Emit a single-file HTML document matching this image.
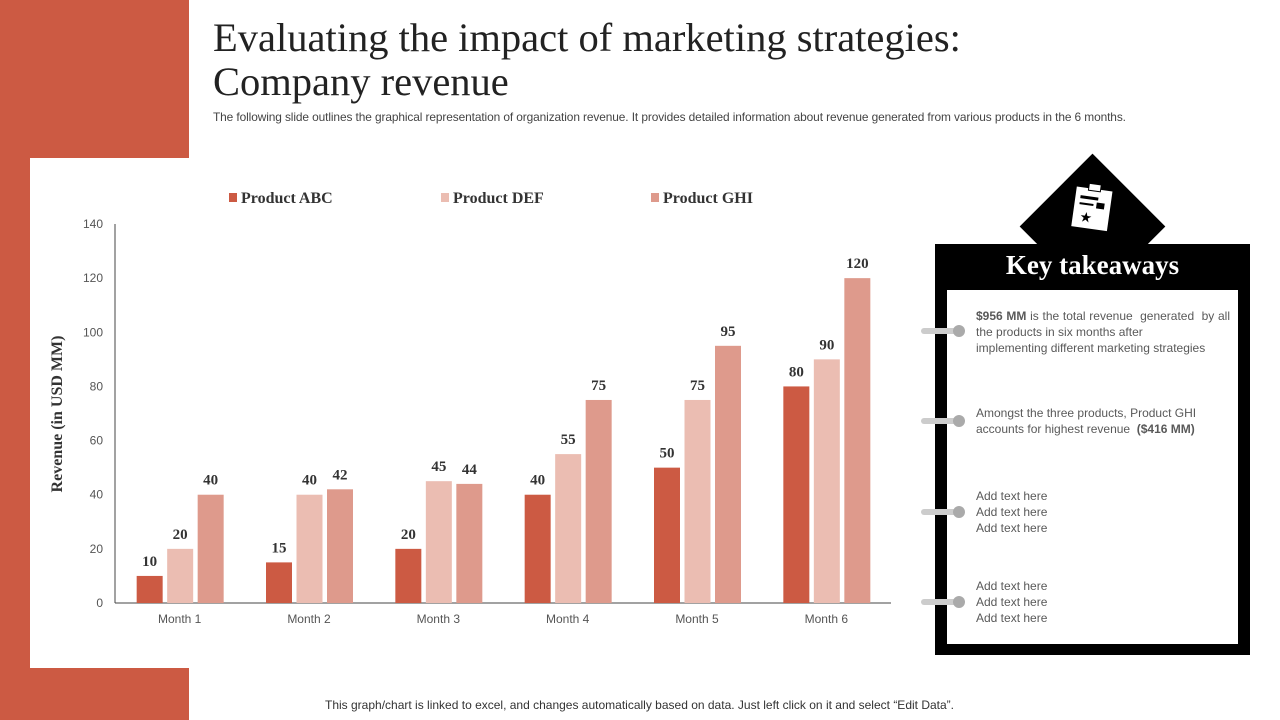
<!DOCTYPE html>
<html><head><meta charset="utf-8"><style>
body{margin:0;width:1280px;height:720px;position:relative;background:#fff;font-family:"Liberation Sans",sans-serif;overflow:hidden}
.abs{position:absolute}
.serif{font-family:"Liberation Serif",serif}
.kt{font-size:12.5px;color:#595959;line-height:16px}
.pin{position:absolute;left:921px;width:42px;height:6px;background:#ccc;border-radius:3px}
.pin:after{content:"";position:absolute;right:-2px;top:-3px;width:12px;height:12px;border-radius:50%;background:#aaa}
</style></head><body>
<div class="abs" style="left:0;top:0;width:189px;height:720px;background:#cc5a43"></div>
<div class="abs" style="left:30px;top:158px;width:880px;height:510px;background:#fff"></div>
<div class="abs serif" style="left:213px;top:16px;font-size:40.5px;line-height:44px;color:#222;white-space:nowrap">Evaluating the impact of marketing strategies:<br>Company revenue</div>
<div class="abs" style="left:213px;top:110px;font-size:11.9px;color:#444;white-space:nowrap;letter-spacing:-0.1px">The following slide outlines the graphical representation of organization revenue. It provides detailed information about revenue generated from various products in the 6 months.</div>
<div class="abs" style="left:325px;top:698px;font-size:12px;color:#333;white-space:nowrap">This graph/chart is linked to excel, and changes automatically based on data. Just left click on it and select “Edit Data”.</div>

<svg class="abs" style="left:0;top:0" width="920" height="720" id="chart"></svg>

<div class="abs" style="left:1041px;top:175px;width:103px;height:103px;background:#000;transform:rotate(45deg)"></div>
<svg class="abs" style="left:1068px;top:183px" width="50" height="50"><g transform="rotate(8 25 25)"><rect x="6" y="6" width="36" height="40" fill="#fff"/><rect x="18" y="1" width="12" height="7" fill="#fff" stroke="#000"/><rect x="11" y="14" width="18" height="3" fill="#000"/><rect x="11" y="21" width="14" height="2" fill="#000"/><rect x="28" y="19" width="8" height="6" fill="#000"/><text x="13" y="40" font-size="14" fill="#000">★</text></g></svg>
<div class="abs" style="left:935px;top:244px;width:315px;height:411px;background:#000"></div>
<div class="abs serif" style="left:935px;top:250px;width:315px;text-align:center;color:#fff;font-size:27px;font-weight:bold">Key takeaways</div>
<div class="abs" style="left:947px;top:290px;width:291px;height:354px;background:#fff"></div>
<div class="pin" style="top:328px"></div>
<div class="pin" style="top:418px"></div>
<div class="pin" style="top:509px"></div>
<div class="pin" style="top:599px"></div>
<div class="abs kt" style="left:976px;top:308px;width:254px;font-size:12px;text-align:justify"><b>$956 MM</b> is the total revenue&nbsp; generated&nbsp; by all the products in six months after<br>implementing different marketing strategies</div>
<div class="abs kt" style="left:976px;top:405px;width:254px;font-size:12px"><span>Amongst the three products, Product GHI accounts for highest revenue&nbsp; </span><b>($416 MM)</b></div>
<div class="abs kt" style="left:976px;top:488px;font-size:12px">Add text here<br>Add text here<br>Add text here</div>
<div class="abs kt" style="left:976px;top:578px;font-size:12px">Add text here<br>Add text here<br>Add text here</div>

<script>
const categories=["Month 1","Month 2","Month 3","Month 4","Month 5","Month 6"];
const seriesNames=["Product ABC","Product DEF","Product GHI"];
const abc=[10,15,20,40,50,80];
const def=[20,40,45,55,75,90];
const ghi=[40,42,44,75,95,120];
const yTicks=[0,20,40,60,80,100,120,140];
const colors=["#cc5a43","#ebbdb2","#de9a8c"];
const NS="http://www.w3.org/2000/svg";
const svg=document.getElementById("chart");
const x0=115,x1=891,y0=603,yTop=224,yMax=140;
const y=v=>y0-(v/yMax)*(y0-yTop);
const band=(x1-x0)/categories.length;
const cx=i=>x0+band*(i+0.5);
function el(t,a,txt){const e=document.createElementNS(NS,t);for(const k in a)e.setAttribute(k,a[k]);if(txt!=null)e.textContent=txt;svg.appendChild(e);return e;}
let e=el("line",{x1:x0,y1:yTop,x2:x0,y2:y0,stroke:"#444"});


e=el("line",{x1:x0,y1:y0,x2:x1,y2:y0,stroke:"#444"});


yTicks.forEach(t=>{const l=el("text",{x:103,y:y(t)+4,"text-anchor":"end","font-size":12,fill:"#555","font-family":"Liberation Sans"},t);

});
categories.forEach((c,i)=>{const l=el("text",{x:cx(i),y:623,"text-anchor":"middle","font-size":12,fill:"#555","font-family":"Liberation Sans"},c);

});
const t=el("text",{x:62,y:414,transform:"rotate(-90 62 414)","text-anchor":"middle","font-size":16,"font-weight":"bold",fill:"#333","font-family":"Liberation Serif"},"Revenue (in USD MM)");


const series=[abc,def,ghi];const bw=26,gap=4.5;
series.forEach((s,si)=>s.forEach((v,i)=>{const bx=cx(i)-43+si*(bw+gap);
const r=el("rect",{x:bx,y:y(v),width:bw,height:y0-y(v),fill:colors[si]});


const l=el("text",{x:bx+bw/2,y:y(v)-10,"text-anchor":"middle","font-size":15,"font-weight":"bold",fill:"#333","font-family":"Liberation Serif"},v);

}));
const lx=[229,441,651];
seriesNames.forEach((n,i)=>{const r=el("rect",{x:lx[i],y:193,width:8,height:9,fill:colors[i]});


const l=el("text",{x:lx[i]+12,y:203,"font-size":16,"font-weight":"bold",fill:"#333","font-family":"Liberation Serif"},n);

});
</script>
</body></html>
